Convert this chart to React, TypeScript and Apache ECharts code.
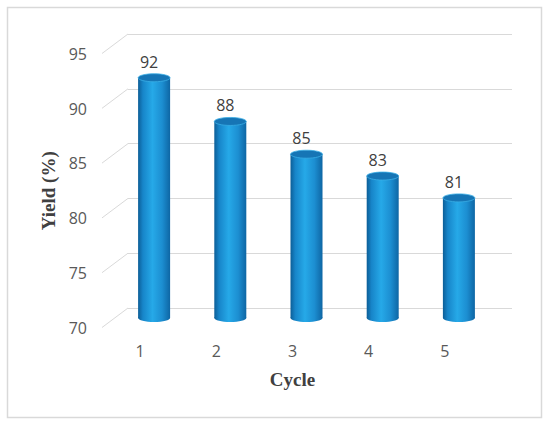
import React, { useEffect, useRef } from "react";
import * as echarts from "echarts";

const categories = ["1", "2", "3", "4", "5"];
const yields = [92, 88, 85, 83, 81];
const yMin = 70;
const yMax = 95;
const yStep = 5;
const yTickValues = [70, 75, 80, 85, 90, 95];

const FONT = "'Open Sans', 'Noto Sans', sans-serif";
const SERIF = "'Liberation Serif', 'Times New Roman', serif";

export default function App() {
  const ref = useRef<HTMLDivElement>(null);

  useEffect(() => {
    if (!ref.current) return;
    const chart = echarts.init(ref.current, undefined, { renderer: "svg" });

    const bodyGradient = () =>
      new echarts.graphic.LinearGradient(0, 0, 1, 0, [
        { offset: 0, color: "#0C5E97" },
        { offset: 0.15, color: "#1785C9" },
        { offset: 0.45, color: "#26A9E8" },
        { offset: 0.75, color: "#1C8ED1" },
        { offset: 1, color: "#0E66A4" },
      ]);

    const option: any = {
      animation: false,
      backgroundColor: "#ffffff",
      graphic: [
        {
          type: "rect",
          shape: { x: 7.5, y: 7.5, width: 534, height: 410 },
          style: { fill: "none", stroke: "#d9d9d9", lineWidth: 1.5 },
          silent: true,
        },
      ],
      grid: [
        { left: 128, right: 38, top: 34, bottom: 120 },
        { left: 116, right: 53, top: 45, bottom: 110 },
        { left: 102, right: 67, top: 54, bottom: 100.5 },
      ],
      xAxis: [
        { type: "value", gridIndex: 0, min: 0, max: 1, show: false },
        { type: "category", gridIndex: 1, data: categories, show: false },
        {
          type: "category",
          gridIndex: 2,
          data: categories,
          axisLine: { show: false },
          axisTick: { show: false },
          axisLabel: { fontSize: 16, color: "#595959", margin: 15, fontFamily: FONT },
          name: "Cycle",
          nameLocation: "middle",
          nameGap: 42,
          nameTextStyle: { fontFamily: SERIF, fontWeight: "bold", fontSize: 19, color: "#404040" },
        },
      ],
      yAxis: [
        {
          type: "value",
          gridIndex: 0,
          min: yMin,
          max: yMax,
          interval: yStep,
          axisLine: { show: false },
          axisTick: { show: false },
          axisLabel: { show: false },
          splitLine: { show: true, lineStyle: { color: "#d9d9d9", width: 1 } },
        },
        { type: "value", gridIndex: 1, min: yMin, max: yMax, interval: yStep, show: false },
        {
          type: "value",
          gridIndex: 2,
          min: yMin,
          max: yMax,
          interval: yStep,
          axisLine: { show: false },
          axisTick: { show: false },
          splitLine: { show: false },
          axisLabel: { fontSize: 16, color: "#595959", margin: 15, fontFamily: FONT },
          name: "Yield (%)",
          nameLocation: "middle",
          nameRotate: 90,
          nameGap: 44,
          nameTextStyle: { fontFamily: SERIF, fontWeight: "bold", fontSize: 19, color: "#404040" },
        },
      ],
      series: [
        {
          type: "custom",
          xAxisIndex: 0,
          yAxisIndex: 0,
          silent: true,
          data: yTickValues.map((v) => [0, v]),
          encode: { x: 0, y: 1 },
          renderItem: (params: any, api: any) => {
            const p = api.coord([0, api.value(1)]);
            return {
              type: "line",
              shape: { x1: p[0], y1: p[1], x2: p[0] - 26, y2: p[1] + 19.5 },
              style: { stroke: "#d9d9d9", lineWidth: 1 },
            };
          },
        },
        {
          type: "custom",
          xAxisIndex: 1,
          yAxisIndex: 1,
          data: yields.map((v, i) => [i, v]),
          encode: { x: 0, y: 1 },
          renderItem: (params: any, api: any) => {
            const idx = api.value(0);
            const val = api.value(1);
            const top = api.coord([idx, val]);
            const base = api.coord([idx, yMin]);
            const w = api.size([1, 0])[0] * 0.42;
            const rx = w / 2;
            const ry = 4;
            const cx = top[0];
            return {
              type: "group",
              children: [
                {
                  type: "ellipse",
                  shape: { cx, cy: base[1], rx, ry },
                  style: { fill: bodyGradient() },
                },
                {
                  type: "rect",
                  shape: { x: cx - rx, y: top[1], width: w, height: base[1] - top[1] },
                  style: { fill: bodyGradient() },
                },
                {
                  type: "ellipse",
                  shape: { cx, cy: top[1], rx, ry },
                  style: { fill: "#1675B5", stroke: "#3AAEE6", lineWidth: 0.8 },
                },
                {
                  type: "text",
                  x: cx - 5,
                  y: top[1] - 16,
                  style: {
                    text: String(val),
                    textAlign: "center",
                    textVerticalAlign: "middle",
                    fontSize: 16,
                    fontFamily: FONT,
                    fill: "#404040",
                  },
                },
              ],
            };
          },
        },
      ],
    };

    chart.setOption(option);
    return () => chart.dispose();
  }, []);

  return (
    <div
      ref={ref}
      style={{ position: "fixed", left: 0, top: 0, width: 550, height: 428 }}
    />
  );
}
